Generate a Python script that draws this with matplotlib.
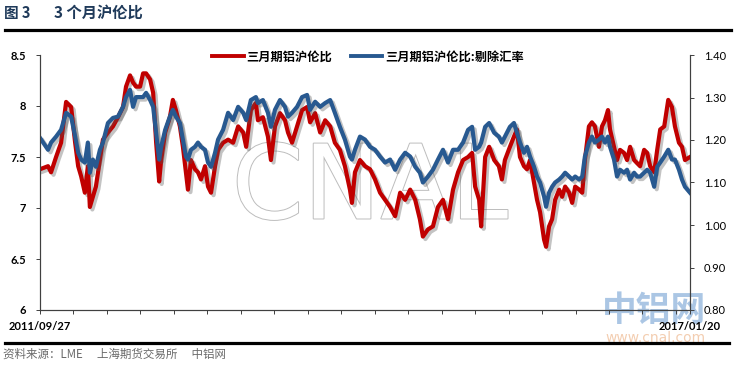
import numpy as np
import matplotlib
matplotlib.use('Agg')
import matplotlib.pyplot as plt
import matplotlib.patheffects as pe
from matplotlib.font_manager import FontProperties
from matplotlib.lines import Line2D

plt.rcParams['font.family'] = ['Noto Sans CJK SC', 'DejaVu Sans']

# data
start = np.datetime64('2011-09-27')
end = np.datetime64('2017-01-20')

day_offsets = [0, 24, 33, 48, 63, 78, 93, 105, 114, 123, 134, 143, 149, 158, 167, 179, 188, 203,
               218, 233, 248, 257, 269, 278, 287, 299, 308, 317, 329, 338, 347, 356, 362, 374,
               388, 397, 406, 418, 427, 436, 442, 451, 463, 472, 481, 493, 502, 511, 523, 532,
               547, 562, 577, 592, 607, 616, 630, 645, 651, 666, 681, 690, 702, 717, 732, 741,
               753, 768, 783, 798, 807, 822, 837, 852, 867, 881, 896, 911, 926, 932, 941, 956,
               971, 986, 1001, 1016, 1031, 1046, 1061, 1076, 1091, 1106, 1121, 1135, 1144, 1159,
               1174, 1189, 1204, 1219, 1234, 1249, 1264, 1279, 1291, 1300, 1312, 1318, 1330, 1342,
               1357, 1371, 1380, 1389, 1404, 1416, 1425, 1434, 1446, 1455, 1464, 1476, 1485, 1494,
               1506, 1512, 1521, 1530, 1539, 1551, 1560, 1569, 1581, 1590, 1599, 1611, 1620, 1628,
               1640, 1649, 1658, 1670, 1679, 1688, 1697, 1703, 1715, 1724, 1733, 1745, 1754, 1763,
               1775, 1784, 1793, 1805, 1814, 1823, 1835, 1844, 1853, 1865, 1877, 1888, 1897, 1909,
               1918, 1927, 1942]

# 三月期铝沪伦比 (left axis)
ratio = [7.38, 7.41, 7.35, 7.50, 7.64, 8.04, 7.99, 7.64, 7.41, 7.31, 7.15, 7.41, 7.01, 7.11, 7.21,
         7.47, 7.67, 7.74, 7.80, 7.89, 7.99, 8.19, 8.30, 8.23, 8.19, 8.19, 8.32, 8.32, 8.26, 8.13,
         7.64, 7.26, 7.47, 7.74, 7.89, 8.06, 7.96, 7.80, 7.60, 7.35, 7.18, 7.47, 7.38, 7.35, 7.28,
         7.41, 7.21, 7.15, 7.41, 7.57, 7.64, 7.67, 7.64, 7.80, 7.74, 7.60, 7.96, 8.03, 7.86, 7.89,
         7.70, 7.47, 7.80, 7.93, 7.86, 7.74, 7.64, 7.80, 7.96, 7.99, 7.84, 7.93, 7.74, 7.86, 7.80,
         7.64, 7.57, 7.41, 7.18, 7.05, 7.35, 7.47, 7.41, 7.38, 7.28, 7.15, 7.08, 7.01, 6.92, 7.15,
         7.08, 7.18, 7.08, 6.89, 6.72, 6.79, 6.82, 7.01, 7.08, 6.89, 7.18, 7.35, 7.47, 7.50, 7.54,
         7.21, 7.08, 6.82, 7.50, 7.60, 7.47, 7.41, 7.28, 7.47, 7.60, 7.70, 7.77, 7.50, 7.41, 7.38,
         7.47, 7.25, 7.08, 6.96, 6.69, 6.62, 6.82, 6.89, 7.08, 7.18, 7.11, 7.21, 7.15, 7.05, 7.21,
         7.18, 7.15, 7.47, 7.80, 7.84, 7.80, 7.60, 7.80, 7.86, 7.96, 7.77, 7.60, 7.47, 7.57, 7.54,
         7.47, 7.60, 7.47, 7.44, 7.41, 7.57, 7.54, 7.41, 7.35, 7.57, 7.77, 7.80, 8.06, 7.99, 7.80,
         7.64, 7.60, 7.47, 7.50]

# 三月期铝沪伦比:剔除汇率 (right axis)
ratio_ex_fx = [1.205, 1.177, 1.194, 1.208, 1.224, 1.264, 1.255, 1.208, 1.170, 1.154, 1.147, 1.194,
               1.123, 1.154, 1.137, 1.177, 1.194, 1.240, 1.252, 1.255, 1.278, 1.301, 1.318, 1.278,
               1.301, 1.301, 1.301, 1.311, 1.294, 1.278, 1.217, 1.154, 1.184, 1.224, 1.255, 1.271,
               1.255, 1.240, 1.201, 1.161, 1.154, 1.177, 1.184, 1.194, 1.184, 1.177, 1.147, 1.137,
               1.170, 1.201, 1.224, 1.264, 1.247, 1.278, 1.264, 1.247, 1.294, 1.301, 1.287, 1.294,
               1.264, 1.231, 1.271, 1.294, 1.278, 1.255, 1.264, 1.278, 1.301, 1.306, 1.271, 1.290,
               1.278, 1.287, 1.294, 1.264, 1.231, 1.201, 1.161, 1.154, 1.177, 1.208, 1.201, 1.184,
               1.177, 1.161, 1.147, 1.154, 1.130, 1.154, 1.170, 1.161, 1.137, 1.123, 1.100, 1.114,
               1.130, 1.154, 1.177, 1.147, 1.177, 1.177, 1.194, 1.224, 1.231, 1.177, 1.184, 1.194,
               1.231, 1.240, 1.217, 1.208, 1.194, 1.208, 1.231, 1.240, 1.217, 1.194, 1.170, 1.184,
               1.161, 1.137, 1.114, 1.100, 1.067, 1.043, 1.076, 1.090, 1.100, 1.107, 1.114, 1.123,
               1.114, 1.107, 1.114, 1.107, 1.114, 1.161, 1.194, 1.208, 1.194, 1.201, 1.208, 1.194,
               1.208, 1.184, 1.154, 1.114, 1.130, 1.123, 1.130, 1.107, 1.123, 1.114, 1.114, 1.123,
               1.130, 1.123, 1.090, 1.137, 1.147, 1.161, 1.177, 1.154, 1.154, 1.130, 1.107, 1.090,
               1.076]

label_red = '三月期铝沪伦比'
label_blue = '三月期铝沪伦比:剔除汇率'
left_ticks = [6, 6.5, 7, 7.5, 8, 8.5]
left_labels = ['6', '6.5', '7', '7.5', '8', '8.5']
right_ticks = [0.8, 0.9, 1.0, 1.1, 1.2, 1.3, 1.4]

red = '#c00000'
blue = '#285990'

dates = start + np.array(day_offsets).astype('timedelta64[D]')

fig = plt.figure(figsize=(7.36, 3.66), dpi=100)
W, H = 736.0, 366.0

ax = fig.add_axes([40 / W, 1 - 310 / H, 650 / W, 255 / H])
ax.set_facecolor('none')
ax2 = ax.twinx()
ax2.set_facecolor('none')

shadow = [pe.SimpleLineShadow(offset=(1.8, -1.8), shadow_color='#555555', alpha=0.35), pe.Normal()]
ax.plot(dates, ratio, color=red, lw=3.0, solid_joinstyle='round', path_effects=shadow)
ax2.plot(dates, ratio_ex_fx, color=blue, lw=3.0, solid_joinstyle='round', path_effects=shadow)

ax.set_xlim(start, end)
ax.set_ylim(6, 8.5)
ax2.set_ylim(0.8, 1.4)

num_font = ['Lato', 'DejaVu Sans']
ax.set_yticks(left_ticks)
ax.set_yticklabels(left_labels, fontweight='bold', fontsize=8, family=num_font)
ax2.set_yticks(right_ticks)
ax2.set_yticklabels(['%.2f' % v for v in right_ticks], fontsize=8, family=num_font)

tick_dates = list(start + np.arange(0, 1942, 100).astype('timedelta64[D]')) + [end]
ax.set_xticks(tick_dates)
xlabels = [''] * len(tick_dates)
xlabels[0] = '2011/09/27'
xlabels[-1] = '2017/01/20'
ax.set_xticklabels(xlabels, fontweight='bold', fontsize=8, family=num_font)

for a in (ax, ax2):
    a.tick_params(direction='out', length=3, width=0.7, colors='#404040', labelcolor='black')
    a.spines['top'].set_visible(False)
    for s in ('left', 'right', 'bottom'):
        a.spines[s].set_color('#404040')
        a.spines[s].set_linewidth(0.8)
ax.tick_params(axis='x', pad=5)
ax.tick_params(axis='y', pad=7)
ax2.tick_params(axis='y', pad=7)

# legend
handles = [Line2D([], [], color=red, lw=2.8), Line2D([], [], color=blue, lw=2.8)]
fig.legend(handles, [label_red, label_blue], loc='center', bbox_to_anchor=(368 / W, 1 - 57 / H),
           ncol=2, frameon=False, prop=FontProperties(family='Noto Sans CJK SC', weight='bold', size=8.8),
           handlelength=2.6, handletextpad=0.25, columnspacing=1.5)

# title and rules
title_color = '#1f3a5a'
fig.text(4 / W, 1 - 13 / H, '图 3', fontsize=10.5, fontweight='bold', color=title_color, va='center')
fig.text(54 / W, 1 - 13 / H, '3 个月沪伦比', fontsize=11, fontweight='bold', color=title_color, va='center')
fig.add_artist(Line2D([5 / W, 731 / W], [1 - 30 / H, 1 - 30 / H], color='black', lw=2.3))
fig.add_artist(Line2D([5 / W, 729 / W], [1 - 343 / H, 1 - 343 / H], color='black', lw=2.3))
fig.text(3 / W, 1 - 354 / H, '资料来源：LME　 上海期货交易所　 中铝网', fontsize=8.3, style='italic',
         color='#6a6a6a', va='center')

# watermarks
fig.text(370 / W, 1 - 190 / H, 'CNAL', fontsize=74, color='white', family='DejaVu Sans',
         ha='center', va='center', zorder=-1,
         path_effects=[pe.Stroke(linewidth=1.4, foreground='#bdbdbd'), pe.Normal()])
fig.text(654 / W, 1 - 310 / H, '中铝网', fontsize=25, fontweight='bold', color='#8fb4dc', alpha=0.75,
         ha='center', va='center', zorder=-1)
fig.text(655 / W, 1 - 338 / H, 'www.cnal.com', fontsize=10, color='#f2c8a8', alpha=0.9,
         ha='center', va='center', family='DejaVu Sans', zorder=-1)

fig.savefig('out.png', dpi=100, facecolor='white')
